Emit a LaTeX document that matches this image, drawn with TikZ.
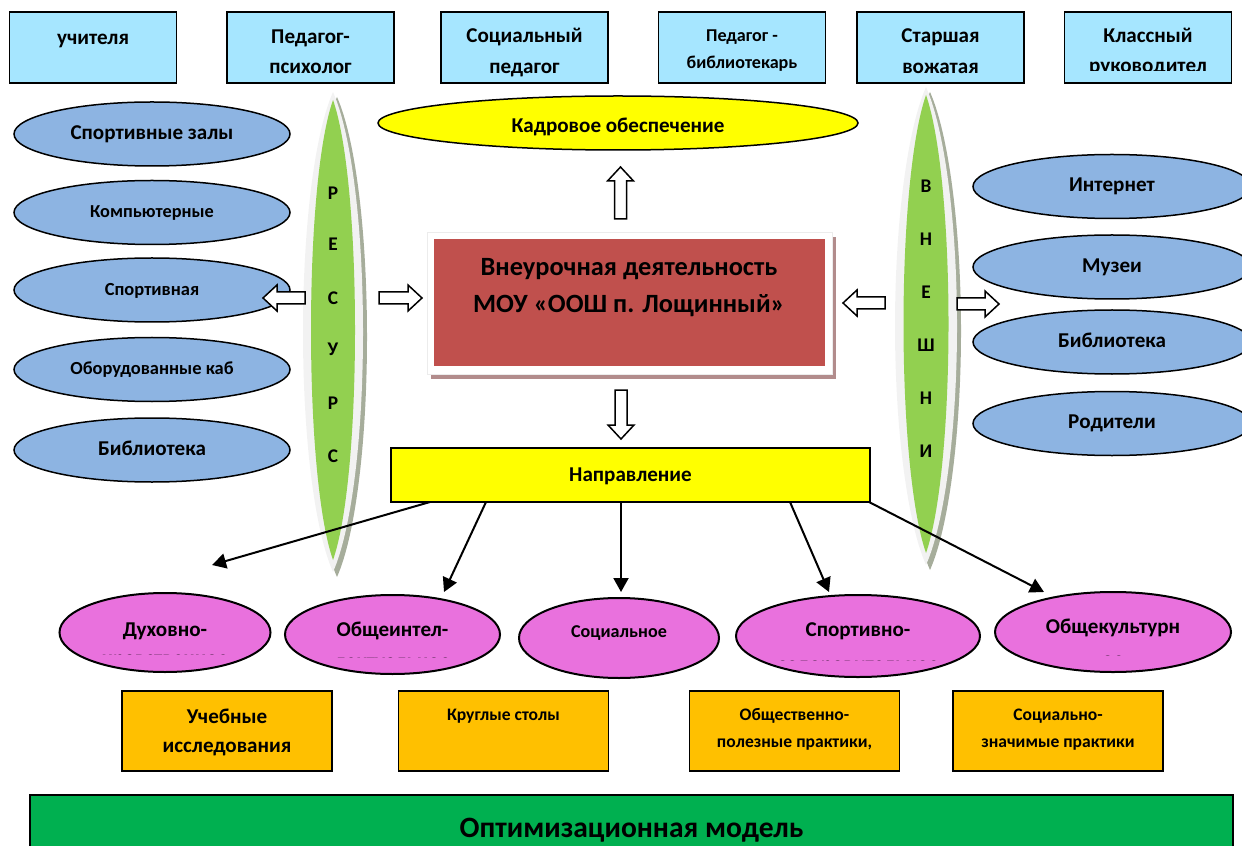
\documentclass[tikz,border=0pt]{standalone}
\usepackage{fontspec}
\setmainfont{Carlito}
\usetikzlibrary{shapes.geometric,arrows.meta}
\newcommand\shrift[1]{\fontsize{#1}{#1}\selectfont\bfseries}
\definecolor{goluboy}{RGB}{166,230,255}
\definecolor{siniy}{RGB}{141,180,226}
\definecolor{zhelt}{RGB}{255,255,0}
\definecolor{krasn}{RGB}{192,80,77}
\definecolor{zelen}{RGB}{146,208,80}
\definecolor{rozov}{RGB}{233,113,221}
\definecolor{oranzh}{RGB}{255,192,0}
\definecolor{zelenniz}{RGB}{0,176,80}
\definecolor{oreol}{RGB}{242,242,242}
\definecolor{ten}{RGB}{166,173,155}
\definecolor{tenkr}{RGB}{178,140,140}
\tikzset{
  sotr/.style={draw,line width=0.35mm,fill=goluboy,minimum width=33.4mm,minimum height=14.2mm,inner sep=0pt},
  txt/.style={anchor=base,inner sep=0pt,font=\shrift{12}},
  resurs/.style={ellipse,draw,line width=0.3mm,fill=siniy,minimum width=55.2mm,minimum height=12.8mm,inner sep=0pt,text height=0.75em,text depth=0.15em},
  napr/.style={ellipse,draw,line width=0.4mm,fill=rozov,inner sep=0pt},
  forma/.style={draw,line width=0.35mm,fill=oranzh,minimum width=42mm,minimum height=16mm,inner sep=0pt},
  blok/.style={draw,line width=0.3mm,fill=white,line join=miter},
  strel/.style={line width=0.4mm,-{Triangle[length=2.8mm,width=3mm]}},
  bukva/.style={anchor=base,inner sep=0pt,font=\shrift{11}}
}
\begin{document}
\begin{tikzpicture}[x=0.2mm,y=-0.2mm]
\useasboundingbox (0,0) rectangle (1242,846);
\clip (0,0) rectangle (1242,846);
%\draw[help lines,step=50] (0,0) grid (1242,846);
% staff
\node[sotr] (uchit) at (93,47.5) {};
\node[sotr] (psih) at (310.5,47.5) {};
\node[sotr] (socped) at (524.5,47.5) {};
\node[sotr] (bibl) at (742,47.5) {};
\node[sotr] (vozh) at (940.5,47.5) {};
\node[sotr] (klass) at (1148,47.5) {};
\node[txt] (uchit-t) at (93,45) {учителя};
\node[txt] (psih-t) at (310.5,44) {Педагог-};
\node[txt] (psih-b) at (310.5,74) {психолог};
\node[txt] (socped-t) at (524.5,43) {Социальный};
\node[txt] (socped-b) at (524.5,74) {педагог};
\node[txt,font=\shrift{10.3}] (bibl-t) at (742,42) {Педагог -};
\node[txt,font=\shrift{10.3}] (bibl-b) at (742,69) {библиотекарь};
\node[txt] (vozh-t) at (940.5,43) {Старшая};
\node[txt] (vozh-b) at (940.5,74) {вожатая};
\node[txt] (klass-t) at (1148,43) {Классный};
\begin{scope}
\clip (1064,50) rectangle (1232,71);
\node[txt] (klass-b) at (1148,73) {руководител};
\end{scope}
% kadry
\node[ellipse,draw,line width=0.3mm,fill=zhelt,minimum width=96mm,minimum height=10.8mm,inner sep=0pt] (kadr) at (618,123) {};
\node[txt,font=\shrift{12}] (kadr-t) at (618,133) {Кадровое обеспечение};
% spindles
\fill[ten] (337,97) .. controls (356,140) and (367,235) .. (367,337) .. controls (367,439) and (356,534) .. (337,577) .. controls (318,534) and (307,439) .. (307,337) .. controls (307,235) and (318,140) .. (337,97);
\fill[oreol] (333,92) .. controls (352,135) and (363,230) .. (363,332) .. controls (363,434) and (352,529) .. (333,572) .. controls (314,529) and (303,434) .. (303,332) .. controls (303,230) and (314,135) .. (333,92);
\fill[zelen] (333,100) .. controls (347,140) and (355,230) .. (355,330) .. controls (355,430) and (347,520) .. (333,560) .. controls (319,520) and (311,430) .. (311,330) .. controls (311,230) and (319,140) .. (333,100);
\fill[ten] (930,92) .. controls (949,135) and (961,230) .. (961,331) .. controls (961,432) and (949,527) .. (930,570) .. controls (911,527) and (899,432) .. (899,331) .. controls (899,230) and (911,135) .. (930,92);
\fill[oreol] (926,87) .. controls (945,130) and (957,225) .. (957,326) .. controls (957,427) and (945,522) .. (926,565) .. controls (907,522) and (895,427) .. (895,326) .. controls (895,225) and (907,130) .. (926,87);
\fill[zelen] (926,95) .. controls (940,135) and (948.5,225) .. (948.5,324) .. controls (948.5,423) and (940,513) .. (926,553) .. controls (912,513) and (903.5,423) .. (903.5,324) .. controls (903.5,225) and (912,135) .. (926,95);
\node[bukva] (r1) at (333,200) {Р};
\node[bukva] (r2) at (333,251) {Е};
\node[bukva] (r3) at (333,305) {С};
\node[bukva] (r4) at (333,356) {У};
\node[bukva] (r5) at (333,409) {Р};
\node[bukva] (r6) at (333,462) {С};
\node[bukva] (v1) at (926,193) {В};
\node[bukva] (v2) at (926,246) {Н};
\node[bukva] (v3) at (926,299) {Е};
\node[bukva] (v4) at (926,351) {Ш};
\node[bukva] (v5) at (926,404) {Н};
\node[bukva] (v6) at (926,457) {И};
% resources
\node[resurs,font=\shrift{12}] (zaly) at (152,134) {Спортивные залы};
\node[resurs,font=\shrift{10.4}] (komp) at (152,212.5) {Компьютерные};
\node[resurs,font=\shrift{10.5}] (sportp) at (152,290) {Спортивная};
\node[resurs,font=\shrift{10.5}] (kab) at (152,369.5) {Оборудованные каб};
\node[resurs,font=\shrift{12}] (biblL) at (152,450) {Библиотека};
\node[resurs,minimum width=55.6mm,font=\shrift{12}] (inet) at (1112,186.5) {Интернет};
\node[resurs,minimum width=55.6mm,font=\shrift{12}] (muz) at (1112,267) {Музеи};
\node[resurs,minimum width=55.6mm,font=\shrift{12}] (biblR) at (1112,342) {Библиотека};
\node[resurs,minimum width=55.6mm,font=\shrift{12}] (rod) at (1112,423.5) {Родители};
% centre
\fill[tenkr] (431,237) rectangle (836,379);
\filldraw[fill=white,draw=gray!15] (427,232) rectangle (832,374);
\node[fill=krasn,inner sep=0pt,minimum width=78.2mm,minimum height=25.4mm] (vneur) at (629.5,302.5) {};
\node[txt,font=\shrift{15}] (vneur-t) at (629,276) {Внеурочная деятельность};
\node[txt,font=\shrift{15}] (vneur-b) at (629,313) {МОУ «ООШ п. Лощинный»};
% block arrows
\draw[blok] (614.5,219) -- (614.5,181) -- (607.5,181) -- (620.5,167) -- (633.5,181) -- (626.5,181) -- (626.5,219) -- cycle;
\draw[blok] (615,390) -- (615,425) -- (608,425) -- (621,439) -- (634,425) -- (627,425) -- (627,390) -- cycle;
\draw[blok] (305,292) -- (277,292) -- (277,285) -- (263,298) -- (277,311) -- (277,304) -- (305,304) -- cycle;
\draw[blok] (379,292) -- (408,292) -- (408,285) -- (422,298) -- (408,311) -- (408,304) -- (379,304) -- cycle;
\draw[blok] (885,297) -- (857,297) -- (857,290) -- (843,303) -- (857,316) -- (857,309) -- (885,309) -- cycle;
\draw[blok] (957,298) -- (985,298) -- (985,291) -- (999,304) -- (985,317) -- (985,310) -- (957,310) -- cycle;
% directions
\node[draw,line width=0.35mm,fill=zhelt,minimum width=95.8mm,minimum height=10.8mm,inner sep=0pt] (napravl) at (630.5,475) {};
\node[txt,font=\shrift{12}] (napravl-t) at (630.5,481) {Направление};
\draw (430,502)coordinate(n1)
      (486,502)coordinate(n2)
      (621,502)coordinate(n3)
      (790,502)coordinate(n4)
      (869,502)coordinate(n5)
      (212,565)coordinate(d1)
      (444,592)coordinate(d2)
      (621,592)coordinate(d3)
      (829,592)coordinate(d4)
      (1044,592)coordinate(d5);
\draw[strel](n1)--(d1);
\draw[strel](n2)--(d2);
\draw[strel](n3)--(d3);
\draw[strel](n4)--(d4);
\draw[strel](n5)--(d5);
\node[napr,minimum width=42.2mm,minimum height=15.8mm] (duh) at (165,632.5) {};
\node[napr,minimum width=43mm,minimum height=15.8mm] (intel) at (392.5,634.5) {};
\node[napr,minimum width=40mm,minimum height=16mm] (soc) at (619,638) {};
\node[napr,minimum width=48.8mm,minimum height=16.4mm] (sport) at (858,636) {};
\node[napr,minimum width=47.2mm,minimum height=16mm] (kult) at (1113,632) {};
\node[txt] (duh-t) at (165,636) {Духовно-};
\node[txt] (intel-t) at (392.5,636) {Общеинтел-};
\node[txt,font=\shrift{10.3}] (soc-t) at (619,637) {Социальное};
\node[txt] (sport-t) at (858,636) {Спортивно-};
\node[txt] (kult-t) at (1113,633) {Общекультурн};
\begin{scope}
\clip (60,640) rectangle (270,654);
\node[txt] (duh-b) at (165,665) {нравственное};
\end{scope}
\begin{scope}
\clip (290,640) rectangle (495,657);
\node[txt] (intel-b) at (392.5,668) {лектуальное};
\end{scope}
\begin{scope}
\clip (740,640) rectangle (975,660);
\node[txt] (sport-b) at (858,671) {оздоровительное};
\end{scope}
\begin{scope}
\clip (1000,640) rectangle (1230,655);
\node[txt] (kult-b) at (1113,666) {ое};
\end{scope}
% forms
\node[forma] (ucheb) at (227,731) {};
\node[forma] (krug) at (503.5,731) {};
\node[forma] (obpol) at (794.5,731) {};
\node[forma] (soczn) at (1058,731) {};
\node[txt] (ucheb-t) at (227,723) {Учебные};
\node[txt] (ucheb-b) at (227,752) {исследования};
\node[txt,font=\shrift{10}] (krug-t) at (503.5,720) {Круглые столы};
\node[txt,font=\shrift{10}] (obpol-t) at (794.5,720) {Общественно-};
\node[txt,font=\shrift{10}] (obpol-b) at (794.5,747) {полезные практики,};
\node[txt,font=\shrift{10}] (soczn-t) at (1058,720) {Социально-};
\node[txt,font=\shrift{10}] (soczn-b) at (1058,747) {значимые практики};
% model
\node[draw,line width=0.35mm,fill=zelenniz,minimum width=240.6mm,minimum height=15mm,inner sep=0pt] (model) at (631.5,832.5) {};
\node[txt,font=\shrift{16.8}] (model-t) at (631.5,837) {Оптимизационная модель};
\end{tikzpicture}
\end{document}
